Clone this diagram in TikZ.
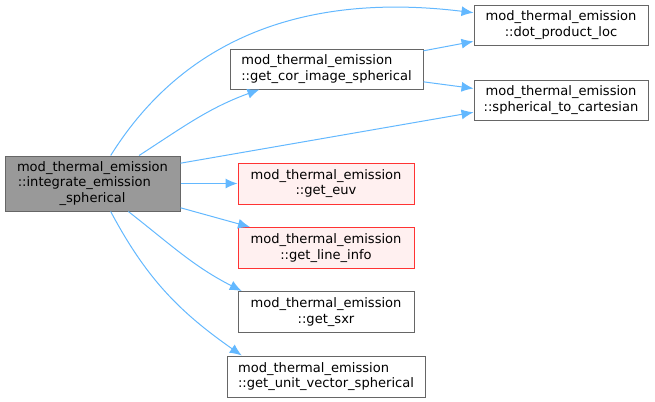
\documentclass[tikz,border=0pt]{standalone}
\usepackage{fontspec}
\setmainfont{DejaVu Sans}
\usepackage{xcolor}
\definecolor{EdgeBlue}{HTML}{63B8FF}
\definecolor{NodeGray}{HTML}{999999}
\definecolor{BorderGray}{HTML}{666666}
\definecolor{SoftRed}{HTML}{FFF0F0}
\definecolor{BorderRed}{HTML}{FF3333}
\usetikzlibrary{arrows.meta,positioning}

\begin{document}
\begin{tikzpicture}[x=0.75pt, y=-0.75pt, every node/.style={font=\fontsize{9.8}{11.6}\selectfont, align=center, inner sep=0pt}, fnode/.style={draw=BorderGray, fill=white, line width=0.75pt, minimum height=30pt}, missing/.style={fnode, draw=BorderRed, fill=SoftRed}, call/.style={-{Latex[length=9pt,width=7.5pt]}, line width=0.75pt, EdgeBlue}]
        \useasboundingbox (0,0) rectangle (655,401);
        \node[fnode, fill=NodeGray, minimum width=131.25pt, minimum height=41.25pt] (integ) at (92.5,183.5) {mod\_thermal\_emission\\::integrate\_emission\hphantom{on}\\\_spherical};
        \node[fnode, minimum width=144.75pt, align=left] (corimg) at (326.5,69) {mod\_thermal\_emission\\::get\_cor\_image\_spherical};
        \node[fnode, minimum width=130.5pt] (dotprod) at (561,25) {mod\_thermal\_emission\\::dot\_product\_loc};
        \node[fnode, minimum width=130.5pt] (sphcart) at (561,100) {mod\_thermal\_emission\\::spherical\_to\_cartesian};
        \node[missing, minimum width=132pt, minimum height=30.75pt] (euv) at (326,183.5) {mod\_thermal\_emission\\::get\_euv};
        \node[missing, minimum width=132pt, minimum height=30.75pt] (lineinfo) at (326,248) {mod\_thermal\_emission\\::get\_line\_info};
        \node[fnode, minimum width=132pt, minimum height=30.75pt] (sxr) at (326,312) {mod\_thermal\_emission\\::get\_sxr};
        \node[fnode, minimum width=148.5pt, minimum height=30.75pt, align=left] (unitvec) at (326,376.5) {mod\_thermal\_emission\\::get\_unit\_vector\_spherical};

        \draw[call] (integ.57) to[out=58, in=173] (dotprod.172);
        \draw[call] (integ.31) to[out=33, in=200] (corimg.197);
        \draw[call] (integ.13) -- (sphcart.188);
        \draw[call] (corimg) -- (dotprod);
        \draw[call] (corimg) -- (sphcart);
        \draw[call] (integ) -- (euv);
        \draw[call] (integ) -- (lineinfo);
        \draw[call] (integ.-38) to[out=-38, in=153] (sxr.166);
        \draw[call] (integ.-57) to[out=-62, in=145] (unitvec.166);
    \end{tikzpicture}
\end{document}
